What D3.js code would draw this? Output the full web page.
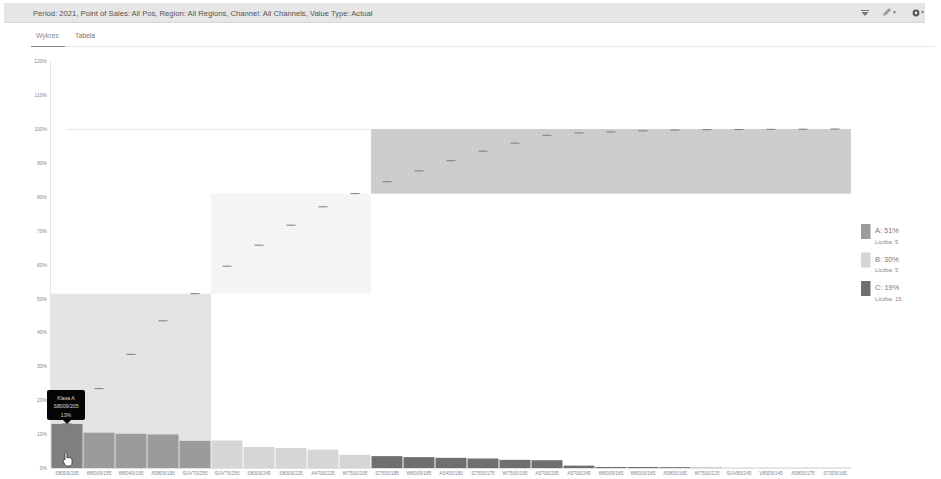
<!DOCTYPE html>
<html><head><meta charset="utf-8">
<script src="https://cdn.jsdelivr.net/npm/d3@7"></script>
<style>
html,body{margin:0;background:#fff}
svg{display:block}
text{font-family:"Liberation Sans",Arial,sans-serif}
</style></head><body>
<svg id="c" width="941" height="479"></svg>
<script>
const filterText = "Period: 2021, Point of Sales: All Pos, Region: All Regions, Channel: All Channels, Value Type: Actual";
const tabs = ["Wykres", "Tabela"];
const products = ["S8009/205","W8009/155","W8040/195","A5809/195","SUV70/255","SUV75/255","S8009/245","S8009/225","A4700/225","W7500/205","S7500/185","W8009/185","A5400/180","S7500/175","W7500/195","A5700/205","A5700/245","W8009/165","W8000/165","A5800/165","W7500/225","SUV80/245","V8009/145","A5800/175","S7009/165"];
const shares = [13,10.4,10.1,9.9,8, 8.1,6.2,5.9,5.4,3.9, 3.5,3.2,3,2.8,2.4,2.3,0.7,0.3,0.3,0.25,0.1,0.05,0.05,0.05,0.05];
const classNames = ["A","B","C"];
const classSizes = [5,5,15];
const classLabels = ["A: 51%","B: 30%","C: 19%"];
const classCounts = ["Liczba: 5","Liczba: 5","Liczba: 15"];
const barColors = ["#9b9b9b","#d6d6d6","#6f6f6f"];
const zoneColors = ["#e4e4e4","#f5f5f5","#cdcdcd"];
const yTicks = [0,10,20,30,40,50,60,70,80,90,100,110,120];
const tipLines = ["Klasa A","S8009/205","13%"];

const svg = d3.select("#c");
const x = d3.scaleBand().domain(products).range([51,851]);
const y = d3.scaleLinear().domain([0,120]).range([468,61]);

// Running total and class of each product
let run = 0;
const cumulative = shares.map(v => run += v);
const classOf = products.map((_, i) => i < classSizes[0] ? 0 : i < classSizes[0] + classSizes[1] ? 1 : 2);

// Filter bar and tabs
svg.append("rect").attr("x",4).attr("y",3).attr("width",921).attr("height",19).attr("fill","#e6e6e6");
svg.append("line").attr("x1",4).attr("x2",925).attr("y1",22.5).attr("y2",22.5).attr("stroke","#d6d6d6");
svg.append("text").attr("x",33).attr("y",15.5).attr("font-size",7.65).attr("fill","#555").text(filterText);
svg.append("text").attr("x",36).attr("y",38).attr("font-size",6.8).attr("fill","#888").text(tabs[0]);
svg.append("text").attr("x",75).attr("y",38).attr("font-size",6.8).attr("fill","#777").text(tabs[1]);
svg.append("line").attr("x1",31).attr("x2",935).attr("y1",46.5).attr("y2",46.5).attr("stroke","#eaeaea");
svg.append("line").attr("x1",31).attr("x2",65).attr("y1",46.5).attr("y2",46.5).attr("stroke","#888").attr("stroke-width",1);

// Toolbar glyphs
const tb = svg.append("g").attr("fill","#777");
tb.append("rect").attr("x",861).attr("y",10).attr("width",8).attr("height",1);
tb.append("path").attr("d","M861.5 12h7l-3.5 4z");
tb.append("path").attr("d","M883 16l1-3 5-5 2 2-5 5z").attr("fill","#999");
tb.append("path").attr("d","M893 11.5h3l-1.5 2z").attr("fill","#555");
tb.append("circle").attr("cx",916).attr("cy",13).attr("r",2.4).attr("fill","none").attr("stroke","#555").attr("stroke-width",2);
tb.append("path").attr("d","M921 11.5h3l-1.5 2z").attr("fill","#555");

// Cumulative class zones
let startIdx = 0;
classSizes.forEach((n, k) => {
  const first = products[startIdx], last = products[startIdx + n - 1];
  const lo = startIdx ? cumulative[startIdx - 1] : 0, hi = cumulative[startIdx + n - 1];
  svg.append("rect").attr("x",x(first)).attr("width",x(last)+x.bandwidth()-x(first))
    .attr("y",y(hi)).attr("height",y(lo)-y(hi)).attr("fill",zoneColors[k]);
  startIdx += n;
});

// 100% reference line
svg.append("line").attr("x1",x(products[0])+15).attr("x2",x(products[10]))
  .attr("y1",y(100)+.5).attr("y2",y(100)+.5).attr("stroke","#d8d8d8").attr("stroke-dasharray","1.5 1");

// Axes
const yAxis = d3.axisLeft(y).tickValues(yTicks).tickFormat(d => d + "%").tickSize(0).tickPadding(3);
const ya = svg.append("g").attr("transform","translate(50,0)").call(yAxis);
ya.select(".domain").attr("stroke","#e6e6e6");
ya.selectAll("text").attr("font-size",5).attr("fill","#888").style("font-family","'Liberation Sans',sans-serif");

const xAxis = d3.axisBottom(x).tickSize(0).tickPadding(4);
const xa = svg.append("g").attr("transform","translate(0,468)").call(xAxis);
xa.select(".domain").attr("stroke","#e2e2e2");
xa.selectAll("text").attr("font-size",4.9).attr("fill","#888").style("font-family","'Liberation Sans',sans-serif");

// Bars
svg.append("g").selectAll("rect").data(shares).join("rect")
  .attr("x",(d,i)=>x(products[i])+.5).attr("width",x.bandwidth()-1)
  .attr("y",d=>y(d)).attr("height",d=>y(0)-y(d))
  .attr("fill",(d,i)=> i === 0 ? "#7f7f7f" : barColors[classOf[i]]);

// Cumulative markers
svg.append("g").selectAll("line").data(cumulative).join("line")
  .attr("x1",(d,i)=>x(products[i])+x.bandwidth()/2-4.5).attr("x2",(d,i)=>x(products[i])+x.bandwidth()/2+4.5)
  .attr("y1",d=>y(d)).attr("y2",d=>y(d))
  .attr("stroke","#7c7c7c").attr("stroke-width",1);

// Tooltip on the first bar
const tipX = x(products[0]) + x.bandwidth()/2, tipY = y(shares[0]);
const tip = svg.append("g");
tip.append("rect").attr("x",tipX-20).attr("y",tipY-34).attr("width",38).attr("height",30).attr("rx",2).attr("fill","#050505");
tip.append("path").attr("d",`M${tipX-4} ${tipY-4}L${tipX} ${tipY}L${tipX+4} ${tipY-4}Z`).attr("fill","#050505");
tip.selectAll("text").data(tipLines).join("text")
  .attr("x",tipX-1).attr("y",(d,i)=>tipY-24+i*8.5).attr("text-anchor","middle")
  .attr("font-size",5.2).attr("fill","#d8d8d8").text(d=>d);

// Pointer glyph over the first bar
svg.append("path").attr("transform",`translate(${tipX-4},${y(0)-16})`)
  .attr("d","M2 1c1-1 2 0 2 1v4c1-1 4 0 5 1v4c0 2-1 3-3 3h-2c-1 0-2-1-3-3l-1-3c0-1 1-1 2 0z")
  .attr("fill","#fff").attr("stroke","#333").attr("stroke-width",.8);

// Legend
const lg = svg.append("g").selectAll("g").data(classNames).join("g")
  .attr("transform",(d,i)=>`translate(861,${224+i*28.5})`);
lg.append("rect").attr("width",9.5).attr("height",15).attr("fill",(d,i)=>barColors[i]);
lg.append("text").attr("x",14).attr("y",9).attr("font-size",7.4).attr("fill","#777").text((d,i)=>classLabels[i]);
lg.append("text").attr("x",14).attr("y",19.5).attr("font-size",5.8).attr("fill","#888").text((d,i)=>classCounts[i]);
</script>
</body></html>
